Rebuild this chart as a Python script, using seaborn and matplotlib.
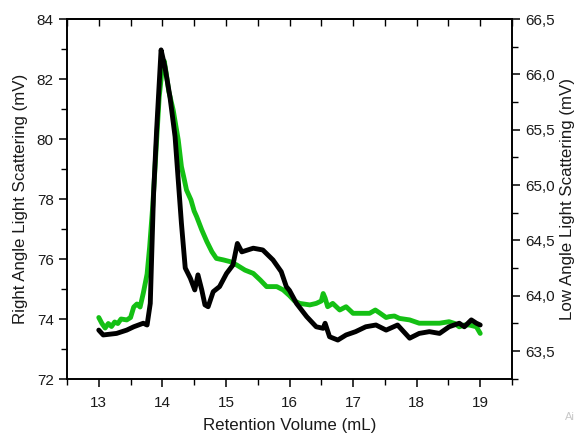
import matplotlib
matplotlib.use("Agg")
import matplotlib.pyplot as plt
from matplotlib.ticker import MultipleLocator, FuncFormatter
import seaborn as sns
import pandas as pd

# Right angle light scattering (green, left axis, mV)
ra_x = [13.0, 13.05, 13.1, 13.15, 13.2, 13.25, 13.3, 13.35, 13.44, 13.5, 13.55, 13.6,
        13.65, 13.7, 13.76, 13.8, 13.85, 13.9, 13.95, 14.0, 14.03, 14.06, 14.1, 14.17,
        14.25, 14.3, 14.34, 14.38, 14.45, 14.5, 14.54, 14.62, 14.7, 14.78, 14.85, 14.96,
        15.07, 15.17, 15.3, 15.43, 15.54, 15.64, 15.8, 15.9, 16.0, 16.08, 16.16, 16.32,
        16.42, 16.5, 16.53, 16.56, 16.6, 16.68, 16.79, 16.89, 17.0, 17.15, 17.26, 17.35,
        17.42, 17.52, 17.57, 17.65, 17.73, 17.89, 18.04, 18.2, 18.36, 18.51, 18.6, 18.67,
        18.75, 18.83, 18.94, 19.0]
ra_y = [74.05, 73.85, 73.7, 73.85, 73.75, 73.9, 73.85, 74.0, 73.97, 74.05, 74.4, 74.5,
        74.4, 74.86, 75.5, 76.4, 77.8, 79.6, 81.4, 82.4, 82.6, 82.2, 81.6, 80.97,
        79.97, 79.08, 78.7, 78.3, 77.97, 77.6, 77.41, 76.97, 76.58, 76.24, 76.02, 75.97,
        75.91, 75.8, 75.63, 75.52, 75.3, 75.08, 75.08, 74.97, 74.78, 74.6, 74.52, 74.47,
        74.52, 74.6, 74.85, 74.7, 74.41, 74.52, 74.3, 74.41, 74.19, 74.19, 74.19, 74.3,
        74.2, 74.05, 74.08, 74.1, 74.02, 73.97, 73.86, 73.86, 73.86, 73.91, 73.85, 73.74,
        73.8, 73.8, 73.74, 73.52]

# Low angle light scattering (black, right axis, mV)
la_x = [13.0, 13.07, 13.28, 13.44, 13.55, 13.7, 13.76, 13.81, 13.86, 13.91, 13.98,
        14.04, 14.12, 14.2, 14.25, 14.3, 14.36, 14.44, 14.51, 14.56, 14.62, 14.67,
        14.72, 14.8, 14.9, 15.01, 15.11, 15.18, 15.25, 15.43, 15.58, 15.74, 15.87,
        15.95, 16.0, 16.11, 16.27, 16.42, 16.53, 16.56, 16.63, 16.76, 16.89, 17.04,
        17.2, 17.36, 17.52, 17.7, 17.89, 18.04, 18.2, 18.36, 18.51, 18.67, 18.75,
        18.86, 18.94, 19.0]
la_y = [63.689, 63.645, 63.659, 63.689, 63.719, 63.751, 63.735, 63.930, 64.895, 65.497,
        66.221, 66.069, 65.795, 65.437, 65.044, 64.654, 64.250, 64.158, 64.052, 64.188,
        64.052, 63.917, 63.900, 64.036, 64.082, 64.201, 64.277, 64.472, 64.396, 64.429,
        64.413, 64.323, 64.217, 64.082, 64.047, 63.930, 63.811, 63.719, 63.705, 63.751,
        63.629, 63.599, 63.645, 63.675, 63.719, 63.735, 63.689, 63.735, 63.616, 63.659,
        63.675, 63.659, 63.719, 63.751, 63.719, 63.781, 63.751, 63.735]

x_ticks = [13, 14, 15, 16, 17, 18, 19]
left_ticks = [72, 74, 76, 78, 80, 82, 84]
right_ticks = [63.5, 64.0, 64.5, 65.0, 65.5, 66.0, 66.5]

sns.set_style("ticks")
plt.rcParams['font.family'] = ['Liberation Sans', 'DejaVu Sans']
plt.rcParams['text.color'] = '#1a1a1a'
plt.rcParams['axes.labelcolor'] = '#1a1a1a'
plt.rcParams['xtick.color'] = 'black'
plt.rcParams['ytick.color'] = 'black'
plt.rcParams['xtick.labelcolor'] = '#1a1a1a'
plt.rcParams['ytick.labelcolor'] = '#1a1a1a'

fig = plt.figure(figsize=(5.79, 4.37), dpi=100)
ax = fig.add_axes([0.1157, 0.1327, 0.7686, 0.8238])
ax2 = ax.twinx()

df_ra = pd.DataFrame({"x": ra_x, "y": ra_y})
df_la = pd.DataFrame({"x": la_x, "y": la_y})
sns.lineplot(data=df_ra, x="x", y="y", ax=ax, color="#14c014", lw=3.5, sort=False)
sns.lineplot(data=df_la, x="x", y="y", ax=ax2, color="black", lw=3.5, sort=False)

ax.set_xlim(12.5, 19.5)
ax.set_ylim(72, 84)
ax2.set_ylim(63.247, 66.5)

ax.set_xticks(x_ticks)
ax.set_yticks(left_ticks)
ax2.set_yticks(right_ticks)
ax.xaxis.set_minor_locator(MultipleLocator(0.5))
ax.yaxis.set_minor_locator(MultipleLocator(1))
ax2.yaxis.set_minor_locator(MultipleLocator(0.25))
ax2.yaxis.set_major_formatter(FuncFormatter(lambda v, p: f"{v:.1f}".replace('.', ',')))

for a in (ax, ax2):
    for s in a.spines.values():
        s.set_visible(True)
        s.set_linewidth(1.2)
        s.set_color("black")

ax.tick_params(axis='x', which='major', direction='out', length=6, width=1.1,
               labelsize=11, top=False, pad=6)
ax.tick_params(axis='x', which='minor', direction='out', length=4, width=1.0, top=False)
ax.tick_params(axis='y', which='major', direction='out', length=6, width=1.1, labelsize=11)
ax.tick_params(axis='y', which='minor', direction='out', length=4, width=1.0)
ax2.tick_params(axis='y', which='major', direction='out', length=6, width=1.1, labelsize=11)
ax2.tick_params(axis='y', which='minor', direction='out', length=4, width=1.0)

# inward ticks on top spine
top = ax.secondary_xaxis('top')
top.set_xticks([12.5 + 0.5 * i for i in range(15)])
top.tick_params(direction='in', length=5, width=1.0, labeltop=False)
top.set_xticklabels([])
top.spines['top'].set_linewidth(1.2)

ax.set_xlabel("Retention Volume (mL)", fontsize=12.2, labelpad=6)
ax.set_ylabel("Right Angle Light Scattering (mV)", fontsize=12.2, labelpad=6)
ax2.set_ylabel("Low Angle Light Scattering (mV)", fontsize=12.2, labelpad=4)

fig.text(0.992, 0.035, "Ai", fontsize=8, color="#c8c8c8", ha="right", va="bottom")

fig.savefig("out.png", dpi=100)
